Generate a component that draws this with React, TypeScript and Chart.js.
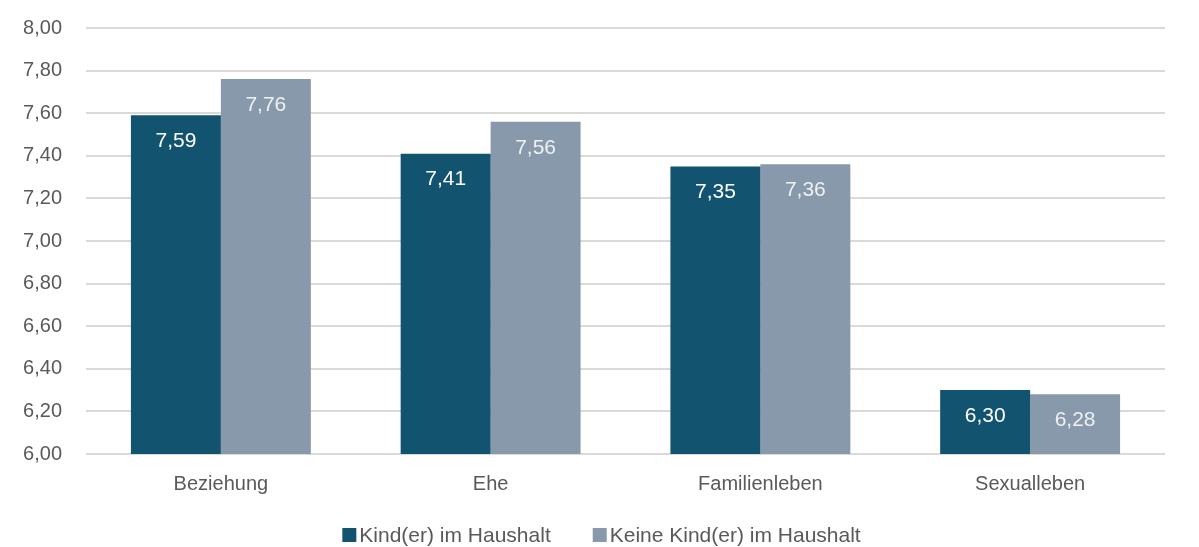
import React, { useEffect, useRef } from "react";
import { Chart, registerables } from "chart.js";

Chart.register(...registerables);

const categories = ["Beziehung", "Ehe", "Familienleben", "Sexualleben"];
const withKids = [7.59, 7.41, 7.35, 6.3];
const withoutKids = [7.76, 7.56, 7.36, 6.28];
const seriesNames = ["Kind(er) im Haushalt", "Keine Kind(er) im Haushalt"];
const seriesColors = ["#12536f", "#8799aa"];

const FONT = "'Liberation Sans', Arial, sans-serif";
const SHIFT = 8;

const labelPlugin = {
  id: "barLabels",
  afterDatasetsDraw(chart: any) {
    const ctx = chart.ctx;
    ctx.save();
    ctx.font = `21px ${FONT}`;
    ctx.textAlign = "center";
    ctx.textBaseline = "middle";
    chart.data.datasets.forEach((ds: any, di: number) => {
      const meta = chart.getDatasetMeta(di);
      ctx.fillStyle = di === 0 ? "#ffffff" : "#eef1f4";
      meta.data.forEach((bar: any, i: number) => {
        const v = ds.data[i] as number;
        ctx.fillText(v.toFixed(2).replace(".", ","), bar.x, bar.y + 26);
      });
    });
    ctx.restore();
  },
};

const legendPlugin = {
  id: "customLegend",
  afterDraw(chart: any) {
    const ctx = chart.ctx;
    ctx.save();
    ctx.font = `21px ${FONT}`;
    ctx.textBaseline = "middle";
    const box = 14;
    const gapBoxText = 3;
    const gapItems = 42;
    const widths = seriesNames.map((n) => box + gapBoxText + ctx.measureText(n).width);
    const total = widths.reduce((a, b) => a + b, 0) + gapItems * (widths.length - 1);
    let x = (chart.width - total) / 2 + 2;
    const y = 535 + SHIFT;
    seriesNames.forEach((n, i) => {
      ctx.fillStyle = seriesColors[i];
      ctx.fillRect(x, y - box / 2, box, box);
      ctx.fillStyle = "#595959";
      ctx.textAlign = "left";
      ctx.fillText(n, x + box + gapBoxText, y + 1);
      x += widths[i] + gapItems;
    });
    ctx.restore();
  },
};

export default function App() {
  const ref = useRef<HTMLCanvasElement>(null);
  useEffect(() => {
    const chart = new Chart(ref.current!, {
      type: "bar",
      data: {
        labels: categories,
        datasets: seriesNames.map((name, i) => ({
          label: name,
          data: i === 0 ? withKids : withoutKids,
          backgroundColor: seriesColors[i],
          barPercentage: 1,
          categoryPercentage: 0.667,
        })),
      },
      options: {
        animation: false,
        responsive: false,
        maintainAspectRatio: false,
        layout: { padding: { left: 0, right: 34, top: 4, bottom: 33 } },
        plugins: {
          tooltip: { enabled: false },
          legend: { display: false },
        },
        scales: {
          x: {
            afterFit: (s: any) => {
              s.height = 60;
            },
            grid: { display: false },
            border: { display: false },
            ticks: { font: { family: FONT, size: 20 }, color: "#595959", padding: 10 },
          },
          y: {
            min: 6,
            max: 8,
            afterFit: (s: any) => {
              s.width = 86;
            },
            grid: { color: "#d9d9d9", lineWidth: 2, drawTicks: false },
            border: { display: false },
            ticks: {
              stepSize: 0.2,
              padding: 24,
              font: { family: FONT, size: 20 },
              color: "#595959",
              callback: (v: any) => Number(v).toFixed(2).replace(".", ","),
            },
          },
        },
      },
      plugins: [labelPlugin, legendPlugin],
    });
    return () => chart.destroy();
  }, []);
  return (
    <div style={{ position: "fixed", left: 0, top: 0, width: 1199, height: 547, background: "#fff", overflow: "hidden" }}>
      <canvas
        ref={ref}
        width={1199}
        height={547 + SHIFT}
        style={{ position: "absolute", left: 0, top: -SHIFT }}
      />
    </div>
  );
}
